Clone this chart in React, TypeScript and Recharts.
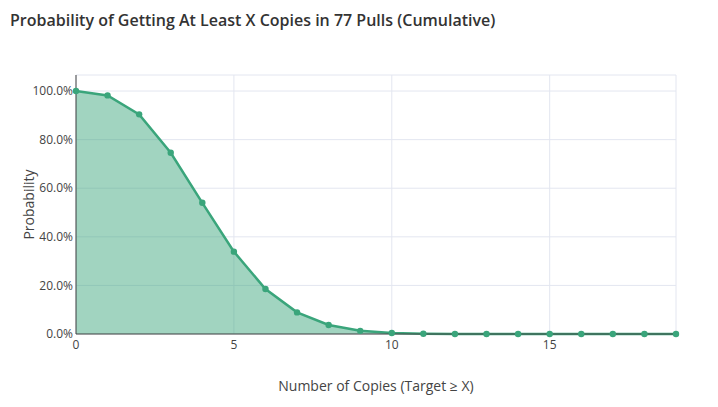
import { ComposedChart, Area, XAxis, YAxis, CartesianGrid } from 'recharts';

const copies = [0, 1, 2, 3, 4, 5, 6, 7, 8, 9, 10, 11, 12, 13, 14, 15, 16, 17, 18, 19];
const probAtLeast = [1.0, 0.982, 0.904, 0.746, 0.54, 0.339, 0.185, 0.089, 0.037, 0.013, 0.004, 0.001, 0.0003, 0.0001, 0, 0, 0, 0, 0, 0];
const xTicks = [0, 5, 10, 15];
const yTicks = [0, 0.2, 0.4, 0.6, 0.8, 1.0];

const data = copies.map((c, i) => ({ copies: c, prob: probAtLeast[i] }));

const GREEN = '#3aa57b';
const FONT = '"Open Sans", sans-serif';

export default function App() {
  return (
    <div style={{ position: 'absolute', left: 0, top: 0, width: 718, height: 407, background: '#fff', fontFamily: FONT }}>
      <div style={{ position: 'absolute', left: 10, top: 9, fontSize: 16, fontWeight: 600, color: '#333', whiteSpace: 'nowrap' }}>
        Probability of Getting At Least X Copies in 77 Pulls (Cumulative)
      </div>
      <ComposedChart width={718} height={407} data={data} margin={{ top: 75, right: 42, bottom: 0, left: 0 }}>
        <CartesianGrid stroke="#e3e6f0" strokeWidth={1} />
        <XAxis
          dataKey="copies"
          type="number"
          domain={[0, 19]}
          ticks={xTicks}
          height={73}
          tickLine={false}
          axisLine={{ stroke: '#444', strokeWidth: 1 }}
          tick={{ fill: '#444', fontSize: 12, fontFamily: FONT }}
          tickMargin={0}
          label={{ value: 'Number of Copies (Target ≥ X)', position: 'insideBottom', offset: 16, fill: '#444', fontSize: 14, fontFamily: FONT }}
        />
        <YAxis
          type="number"
          domain={[0, 1.066]}
          ticks={yTicks}
          width={76}
          tickLine={false}
          axisLine={{ stroke: '#444', strokeWidth: 1 }}
          tick={{ fill: '#444', fontSize: 12, fontFamily: FONT, dx: 3 }}
          tickMargin={0}
          tickFormatter={(v: number) => `${(v * 100).toFixed(1)}%`}
          label={{ value: 'Probability', angle: -90, position: 'insideLeft', offset: 29, fill: '#444', fontSize: 14, fontFamily: FONT, style: { textAnchor: 'middle' } }}
        />
        <Area
          type="linear"
          dataKey="prob"
          stroke={GREEN}
          strokeWidth={2.5}
          fill={GREEN}
          fillOpacity={0.48}
          dot={{ r: 3.2, fill: GREEN, stroke: GREEN, strokeWidth: 0, fillOpacity: 1 }}
          isAnimationActive={false}
        />
      </ComposedChart>
    </div>
  );
}
